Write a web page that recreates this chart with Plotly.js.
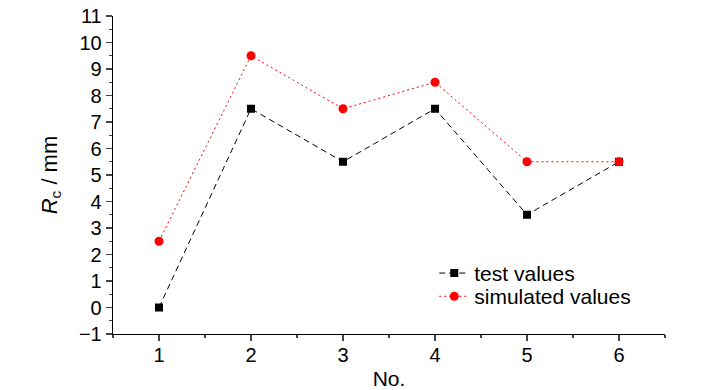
<!DOCTYPE html>
<html><head><meta charset="utf-8">
<script src="https://cdn.plot.ly/plotly-3.0.1.min.js"></script>
<style>html,body{margin:0;padding:0;background:#fff}</style>
</head><body>
<div id="chart" style="width:728px;height:390px"></div>
<script>
const categories = [1, 2, 3, 4, 5, 6];
const testValues = [0, 7.5, 5.5, 7.5, 3.5, 5.5];
const simulatedValues = [2.5, 9.5, 7.5, 8.5, 5.5, 5.5];
const yTicks = [-1,0,1,2,3,4,5,6,7,8,9,10,11];

const fontFam = '"Liberation Sans Narrow", "Arial Narrow", "Liberation Sans", Arial, sans-serif';

const traces = [
  {x: categories, y: testValues, name: 'test values', mode: 'lines+markers', type: 'scatter', legend: 'legend',
   line: {color: '#000', dash: '6px,4px', width: 1}, marker: {symbol: 'square', size: 8, color: '#000'}},
  {x: categories, y: simulatedValues, name: 'simulated values', mode: 'lines+markers', type: 'scatter', legend: 'legend2',
   line: {color: '#ff0000', dash: '2px,3px', width: 1}, marker: {symbol: 'circle', size: 9, color: '#ff0000'}}
];

const legFont = {family: fontFam, size: 21, color: '#000'};
const layout = {
  width: 728, height: 390,
  margin: {l: 113, r: 63, t: 16, b: 56},
  paper_bgcolor: '#fff', plot_bgcolor: '#fff',
  font: {family: fontFam, size: 20, color: '#000'},
  showlegend: true,
  legend: {x: 0.582, y: 0.255, xanchor: 'left', yanchor: 'top', bgcolor: 'rgba(0,0,0,0)', font: legFont},
  legend2: {x: 0.582, y: 0.182, xanchor: 'left', yanchor: 'top', bgcolor: 'rgba(0,0,0,0)', font: legFont},
  xaxis: {
    range: [0.5, 6.5], tickvals: categories, ticks: 'outside', ticklen: 6, tickwidth: 1.3,
    showline: true, linecolor: '#000', linewidth: 1.3, showgrid: false, zeroline: false,
    minor: {dtick: 0.5, tick0: 0.5, ticks: 'outside', ticklen: 3, tickwidth: 1.3, showgrid: false},
    ticklabelstandoff: -3,
    title: {text: 'No.', font: {family: fontFam, size: 21}, standoff: 10},
    tickfont: {family: fontFam, size: 20}
  },
  yaxis: {
    range: [-1, 11], tickvals: yTicks, ticks: 'outside', ticklen: 6, tickwidth: 1.3,
    showline: true, linecolor: '#000', linewidth: 1.3, showgrid: false, zeroline: false,
    minor: {dtick: 0.5, tick0: 0.5, ticks: 'outside', ticklen: 3, tickwidth: 1.3, showgrid: false},
    title: {text: '<i>R</i><sub>c</sub> / mm', font: {family: fontFam, size: 22}, standoff: 15},
    tickfont: {family: fontFam, size: 20}
  }
};
Plotly.newPlot('chart', traces, layout, {displayModeBar: false, staticPlot: true});
</script>
</body></html>
